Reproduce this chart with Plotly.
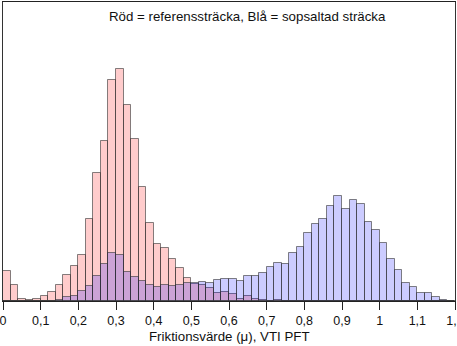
import plotly.graph_objects as go

bin_width = 0.02
bin_starts = [round(i * bin_width, 2) for i in range(60)]

red_counts = [30.5, 16.5, 2, 1.5, 2, 5, 9.5, 16, 26.5, 35,
              46, 82, 128, 160.5, 221, 232, 196, 162, 114, 78,
              57, 53, 42, 33, 23, 17.5, 16, 13, 8, 9,
              7.5, 2.5, 5, 2, 1, 0.5, 1, 0.5, 0, 0,
              0, 0, 0, 0, 0, 0, 0, 0, 0, 0,
              0, 0, 0, 0, 0, 0, 0, 0, 0, 0]

blue_counts = [0, 0, 0, 0, 0, 0.5, 0.5, 1.5, 4, 5.5,
               10, 15, 25, 37, 48, 46, 29.5, 24.5, 20, 16,
               14, 16, 15.5, 16, 18, 18, 19, 18.5, 21, 22,
               22.5, 20, 25, 25.5, 28, 34, 38, 37, 48.5, 54,
               68.5, 77.5, 82, 95.5, 105.5, 92.5, 101.5, 97.5, 79.5, 71,
               58, 42, 31, 18, 14, 8, 8, 4, 1, 0.5]

tick_vals = [round(i * 0.1, 1) for i in range(13)]
tick_text = ["0", "0,1", "0,2", "0,3", "0,4", "0,5", "0,6", "0,7", "0,8", "0,9", "1", "1,1", "1,2"]

legend_text = "Röd = referenssträcka, Blå = sopsaltad sträcka"
x_title = "Friktionsvärde (μ), VTI PFT"

centers = [s + bin_width / 2 for s in bin_starts]

fig = go.Figure()
fig.add_trace(go.Bar(x=centers, y=red_counts, width=bin_width,
                     marker=dict(color="rgba(255,0,0,0.2)",
                                 line=dict(color="rgba(50,50,50,0.6)", width=1))))
fig.add_trace(go.Bar(x=centers, y=blue_counts, width=bin_width,
                     marker=dict(color="rgba(0,0,255,0.2)",
                                 line=dict(color="rgba(50,50,50,0.6)", width=1))))

font_family = "Liberation Sans, Arial, sans-serif"
fig.update_layout(
    barmode="overlay",
    bargap=0,
    showlegend=False,
    width=457, height=346,
    margin=dict(l=3, r=2, t=2, b=45),
    paper_bgcolor="white",
    plot_bgcolor="white",
    font=dict(family=font_family, size=12, color="#111"),
    xaxis=dict(range=[0, 1.2], tickmode="array", tickvals=tick_vals, ticktext=tick_text,
               ticks="outside", ticklen=8, tickwidth=1, tickcolor="#222",
               showline=True, linecolor="#222", linewidth=1, mirror=True,
               showgrid=False, zeroline=False, automargin=False,
               ticklabeloverflow="allow",
               tickfont=dict(size=12.5)),
    yaxis=dict(range=[0, 299], showticklabels=False, ticks="",
               showline=True, linecolor="#333", linewidth=1, mirror=True,
               showgrid=False, zeroline=False, automargin=False),
    annotations=[
        dict(text=legend_text, x=0.54, y=0.953, xref="paper", yref="paper",
             xanchor="center", yanchor="middle", showarrow=False,
             font=dict(size=13.3, family=font_family, color="#111")),
        dict(text=x_title, x=0.5, y=-0.1204, xref="paper", yref="paper",
             xanchor="center", yanchor="middle", showarrow=False,
             font=dict(size=13.3, family=font_family, color="#111")),
    ],
)

fig.write_html("out.html")
